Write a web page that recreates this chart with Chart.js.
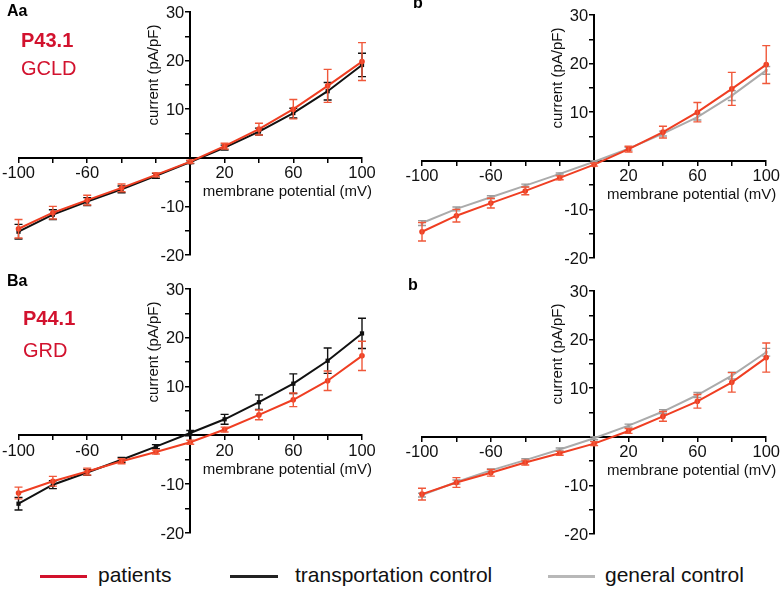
<!DOCTYPE html>
<html>
<head>
<meta charset="utf-8">
<script src="https://cdn.jsdelivr.net/npm/chart.js@4.4.0/dist/chart.umd.min.js"></script>
<style>
    body { margin: 0; background: #fff; font-family: "Liberation Sans", Arial, sans-serif; }
    #wrap { position: relative; width: 782px; height: 589px; overflow: hidden; background: #fff; }
    canvas { position: absolute; }
    .lbl { position: absolute; line-height: 1; white-space: nowrap; }
    .panel { font-weight: bold; font-size: 16px; color: #000; }
    .pname { font-size: 20px; color: #d2122e; }
    .legline { position: absolute; height: 3px; top: 575px; }
    .legtext { position: absolute; top: 564px; font-size: 21px; line-height: 1; color: #111; white-space: nowrap; }
</style>
</head>
<body>
<div id="wrap">
    <canvas id="chartAa" width="391" height="280" style="left:0;top:0"></canvas>
    <canvas id="chartAb" width="391" height="280" style="left:391px;top:0"></canvas>
    <canvas id="chartBa" width="391" height="270" style="left:0;top:280px"></canvas>
    <canvas id="chartBb" width="391" height="270" style="left:391px;top:280px"></canvas>

    <div class="lbl panel" style="left:7px;top:3px">Aa</div>
    <div class="lbl pname" style="left:21px;top:30px;font-weight:bold">P43.1</div>
    <div class="lbl pname" style="left:21px;top:58px">GCLD</div>
    <div class="lbl panel" style="left:413px;top:-5px">b</div>

    <div class="lbl panel" style="left:7px;top:273px">Ba</div>
    <div class="lbl pname" style="left:23px;top:308px;font-weight:bold">P44.1</div>
    <div class="lbl pname" style="left:23px;top:340px">GRD</div>
    <div class="lbl panel" style="left:408px;top:277px">b</div>

    <div class="legline" style="left:40px;width:47px;background:#d2112c"></div>
    <div class="legtext" style="left:98px">patients</div>
    <div class="legline" style="left:230px;width:48px;background:#222"></div>
    <div class="legtext" style="left:295px">transportation control</div>
    <div class="legline" style="left:548px;width:47px;background:#b8b8b8"></div>
    <div class="legtext" style="left:605px">general control</div>
</div>

<script>
// membrane potentials (mV)
const voltages = [-100, -80, -60, -40, -20, 0, 20, 40, 60, 80, 100];

// tick labels that are printed on the axes
const xTickLabels = [-100, -60, 20, 60, 100];
const yTickLabels = [-20, -10, 10, 20, 30];

const xTitle = "membrane potential (mV)";
const yTitle = "current (pA/pF)";

// P43.1 (GCLD) patient cells, mean and SEM
const p43Mean = [-14.6, -11.3, -8.7, -6.2, -3.5, -0.8, 2.4, 5.9, 10.0, 14.8, 19.8];
const p43Err = [1.9, 1.3, 1.0, 0.8, 0.4, 0.3, 0.6, 1.2, 2.0, 3.4, 3.9];

// transportation control for P43.1
const transA = [-15.2, -11.7, -9.0, -6.5, -3.7, -0.9, 2.1, 5.4, 9.2, 13.7, 19.1];
const transAErr = [1.5, 1.0, 0.8, 0.7, 0.5, 0.3, 0.5, 0.7, 1.0, 1.8, 2.4];

// general control shown in panel Ab
const generalA = [-12.8, -9.9, -7.5, -5.1, -2.7, -0.2, 2.5, 5.6, 9.0, 13.4, 18.6];
const generalAErr = [0.5, 0.4, 0.3, 0.3, 0.2, 0.2, 0.3, 0.5, 0.6, 1.0, 0.8];

// P44.1 (GRD) patient cells
const p44Mean = [-11.8, -9.4, -7.4, -5.3, -3.4, -1.4, 1.2, 4.2, 7.3, 11.2, 16.3];
const p44Err = [1.2, 1.0, 0.7, 0.5, 0.4, 0.4, 0.5, 1.0, 1.4, 2.0, 3.0];

// transportation control for P44.1
const transB = [-14.0, -10.1, -7.6, -5.0, -2.3, 0.5, 3.3, 6.8, 10.6, 15.3, 20.9];
const transBErr = [1.3, 0.8, 0.6, 0.5, 0.4, 0.5, 1.0, 1.5, 2.0, 2.6, 3.1];

// general control shown in panel Bb
const generalB = [-12.0, -9.3, -6.9, -4.8, -2.6, -0.3, 2.3, 5.2, 8.6, 12.6, 17.4];
const generalBErr = [0.4, 0.4, 0.3, 0.3, 0.3, 0.3, 0.3, 0.4, 0.5, 0.7, 0.8];

const RED = '#ef3e22';
const BLACK = '#111111';
const GREY = '#ababab';
const FONT = '"Liberation Sans", Arial, sans-serif';

// pair the voltages with a series
function points(values) {
    return voltages.map(function (v, i) {
        return { x: v, y: values[i] };
    });
}

function patientSet(values, errors) {
    return {
        data: points(values), errors: errors, errorColor: '#f0583a',
        borderColor: RED, backgroundColor: RED, borderWidth: 2,
        pointStyle: 'circle', pointRadius: 2.8, pointBorderWidth: 0, clip: false
    };
}

function transportSet(values, errors) {
    return {
        data: points(values), errors: errors, errorColor: '#111',
        borderColor: BLACK, backgroundColor: BLACK, borderWidth: 2,
        pointStyle: 'rect', pointRadius: 3, pointBorderWidth: 0, clip: false
    };
}

function generalSet(values, errors) {
    return {
        data: points(values), errors: errors, errorColor: '#9c9c9c',
        borderColor: GREY, backgroundColor: GREY, borderWidth: 2,
        pointStyle: 'rect', pointRadius: 2, pointBorderWidth: 0, clip: false
    };
}

// draws the SEM bars of each dataset right after the dataset itself
const errorBars = {
    id: 'errorBars',
    afterDatasetDraw(chart, args) {
        const ds = chart.data.datasets[args.index];
        const xs = chart.scales.x;
        const ys = chart.scales.y;
        const ctx = chart.ctx;
        ctx.save();
        ctx.strokeStyle = ds.errorColor;
        ctx.lineWidth = 1.4;
        for (let i = 0; i < ds.data.length; i++) {
            const x = xs.getPixelForValue(ds.data[i].x);
            const top = ys.getPixelForValue(ds.data[i].y + ds.errors[i]);
            const bot = ys.getPixelForValue(ds.data[i].y - ds.errors[i]);
            ctx.beginPath();
            ctx.moveTo(x, top); ctx.lineTo(x, bot);
            ctx.moveTo(x - 4, top); ctx.lineTo(x + 4, top);
            ctx.moveTo(x - 4, bot); ctx.lineTo(x + 4, bot);
            ctx.stroke();
        }
        ctx.restore();
    }
};

// axis titles and the y tick labels, placed next to the crossing axes
const axisText = {
    id: 'axisText',
    afterDraw(chart) {
        const ctx = chart.ctx;
        const area = chart.chartArea;
        const ys = chart.scales.y;
        const x0 = chart.scales.x.getPixelForValue(0);
        const y0 = ys.getPixelForValue(0);
        ctx.save();
        ctx.fillStyle = '#111';

        // y tick labels, right aligned against the tick marks
        ctx.font = '16.5px ' + FONT;
        ctx.textAlign = 'right';
        ctx.textBaseline = 'middle';
        ys.ticks.forEach(function (t) {
            if (yTickLabels.includes(t.value)) {
                ctx.fillText(String(t.value), x0 - 6, ys.getPixelForValue(t.value) + 1);
            }
        });

        ctx.font = '15px ' + FONT;
        ctx.fillText(xTitle, area.right + 10, y0 + 34);
        ctx.translate(x0 - 36, area.top + 63);
        ctx.rotate(-Math.PI / 2);
        ctx.textAlign = 'center';
        ctx.fillText(yTitle, 0, 0);
        ctx.restore();
    }
};

function makePanel(id, datasets, padding) {
    const ctx = document.getElementById(id).getContext('2d');
    return new Chart(ctx, {
        type: 'line',
        data: { datasets: datasets },
        options: {
            responsive: false,
            animation: false,
            devicePixelRatio: 1,
            layout: { padding: padding },
            elements: { line: { tension: 0 } },
            plugins: { legend: { display: false }, tooltip: { enabled: false } },
            scales: {
                x: {
                    type: 'linear', min: -100, max: 100,
                    position: { y: 0 },
                    grid: { drawOnChartArea: false, color: '#000', lineWidth: 1.5, tickLength: 4 },
                    border: { color: '#000', width: 2 },
                    ticks: {
                        stepSize: 20, autoSkip: false, maxRotation: 0, padding: 2,
                        color: '#111', font: { family: FONT, size: 16.5 },
                        callback: function (v) { return xTickLabels.includes(v) ? String(v) : ''; }
                    }
                },
                y: {
                    type: 'linear', min: -20, max: 30,
                    position: { x: 0 },
                    grid: { drawOnChartArea: false, color: '#000', lineWidth: 1.5, tickLength: 4 },
                    border: { color: '#000', width: 2 },
                    ticks: {
                        // labels are drawn by the axisText plugin
                        stepSize: 5, autoSkip: false, display: false
                    }
                }
            }
        },
        plugins: [errorBars, axisText]
    });
}

// first dataset is drawn on top
makePanel('chartAa', [patientSet(p43Mean, p43Err), transportSet(transA, transAErr)],
    { left: 14, right: 29, top: 12, bottom: 25 });
makePanel('chartAb', [patientSet(p43Mean, p43Err), generalSet(generalA, generalAErr)],
    { left: 31, right: 12, top: 15, bottom: 22 });
makePanel('chartBa', [patientSet(p44Mean, p44Err), transportSet(transB, transBErr)],
    { left: 13, right: 29, top: 9, bottom: 17 });
makePanel('chartBb', [patientSet(p44Mean, p44Err), generalSet(generalB, generalBErr)],
    { left: 31, right: 12, top: 11, bottom: 16 });
</script>
</body>
</html>
